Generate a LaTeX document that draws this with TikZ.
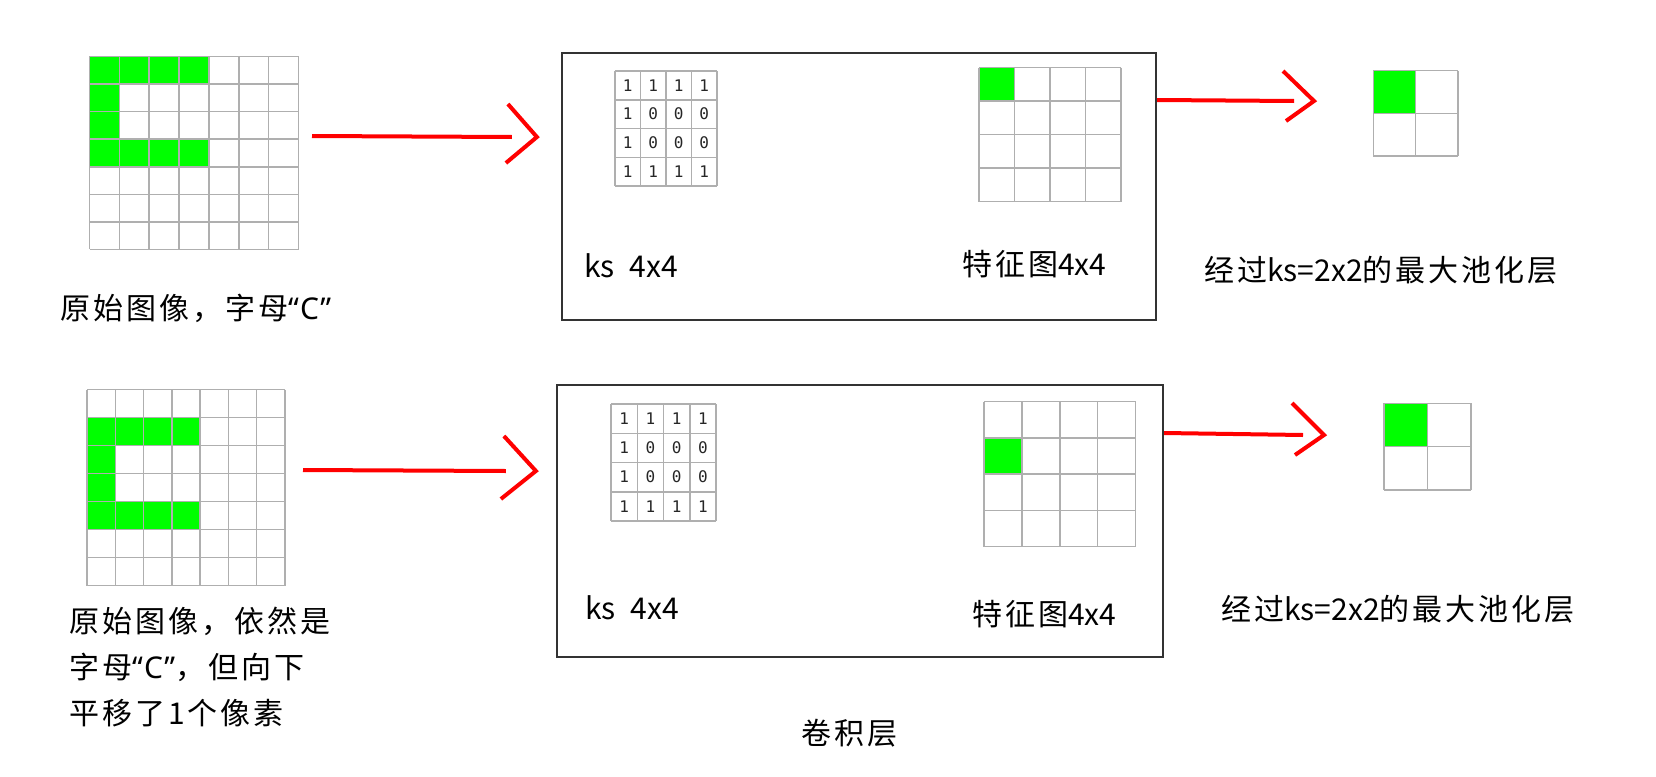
\documentclass[tikz,border=0pt]{standalone}
\usepackage{fontspec}
\setmainfont{Noto Sans CJK SC}
\newfontfamily\cjkspaced[LetterSpace=10]{Noto Sans CJK SC}
\newfontfamily\quotefont[LetterSpace=4]{Noto Sans}
\newfontfamily\kernelfont{DejaVu Sans Mono}
\usepackage{tikz}
\usetikzlibrary{positioning, calc}
\definecolor{pixgreen}{RGB}{0, 255, 0}
\definecolor{arrowred}{RGB}{255, 0, 0}
\definecolor{gridgray}{RGB}{175, 175, 175}
\tikzstyle{gridline} = [draw=gridgray, line width=1.5pt]
\tikzstyle{convbox} = [rectangle, draw=black!80, line width=2.2pt, inner sep=0pt]
\tikzstyle{redline} = [draw=arrowred, line width=4pt]
\tikzstyle{labeltext} = [anchor=base west, inner sep=0pt, font=\cjkspaced\fontsize{30}{36}\selectfont]
\tikzstyle{kstext} = [anchor=base west, inner sep=0pt, font=\fontsize{30}{36}\selectfont]
\tikzstyle{kernelnum} = [inner sep=0pt, font=\kernelfont\fontsize{16}{16}\selectfont, text=black!85]
\newcommand{\plainlatin}[1]{{\normalfont\fontsize{30}{36}\selectfont #1}}
% x0, y0, cols, rows, cell width, cell height
\newcommand{\cellgrid}[6]{%
  \foreach \i in {0,...,#3} \draw[gridline] ({#1+\i*#5},#2) -- ({#1+\i*#5},{#2+#4*#6});
  \foreach \j in {0,...,#4} \draw[gridline] (#1,{#2+\j*#6}) -- ({#1+#3*#5},{#2+\j*#6});
}
% x0, y0, cell width, cell height, list of col/row
\newcommand{\greencells}[5]{%
  \foreach \c/\r in {#5} \fill[pixgreen] ({#1+\c*#3},{#2+\r*#4}) rectangle +(#3,#4);
}
% x0, y0, cell width, cell height
\newcommand{\kernelnums}[4]{%
  \foreach \row [count=\j from 0] in {{1,1,1,1},{1,0,0,0},{1,0,0,0},{1,1,1,1}} {
    \foreach \v [count=\i from 0] in \row
      \node[kernelnum] at ({#1+(\i+0.5)*#3},{#2+(\j+0.5)*#4}) {\v};
  }
}

\begin{document}
\begin{tikzpicture}[x=1pt, y=-1pt]
    \useasboundingbox (0,0) rectangle (1656,776);

    % Top row: input image
    \greencells{89.5}{56.5}{29.86}{27.57}{0/0,1/0,2/0,3/0,0/1,0/2,0/3,1/3,2/3,3/3}
    \cellgrid{89.5}{56.5}{7}{7}{29.86}{27.57}
    \node[labeltext] (img1txt) at (60,319) {原始图像，字母{\quotefont “C”}};

    % Top row: convolution layer
    \node[convbox, minimum width=594pt, minimum height=267pt] (conv1) at (859,186.5) {};
    \cellgrid{615}{71}{4}{4}{25.5}{28.75}
    \kernelnums{615}{71}{25.5}{28.75}
    \node[kstext] (ks1) at (584,277) {ks\hspace{15pt}4x4};
    \greencells{979}{67.7}{35.5}{33.5}{0/0}
    \cellgrid{979}{67.7}{4}{4}{35.5}{33.5}
    \node[labeltext] (fm1) at (962,275.5) {特征图\plainlatin{4x4}};

    % Top row: pooling
    \greencells{1373.3}{70.7}{42.35}{42.65}{0/0}
    \cellgrid{1373.3}{70.7}{2}{2}{42.35}{42.65}
    \node[labeltext] (pool1) at (1204,281) {经过\plainlatin{ks=2x2}的最大池化层};

    % Top row arrows
    \coordinate (a1s) at (312,136);
    \path (conv1.west |- a1s) ++(-24,1) coordinate (a1t);
    \draw[redline] (a1s) -- ([xshift=-25pt]a1t);
    \draw[redline] ([shift={(-29,-33)}]a1t) -- (a1t) -- ([shift={(-31,26)}]a1t);
    \coordinate (a3s) at (conv1.east |- 0,100);
    \coordinate (a3t) at (1314,101);
    \draw[redline] (a3s) -- ([xshift=-20pt]a3t);
    \draw[redline] ([shift={(-31,-30)}]a3t) -- (a3t) -- ([shift={(-28,20)}]a3t);

    % Bottom row: shifted input image
    \greencells{87}{389.5}{28.29}{28}{0/1,1/1,2/1,3/1,0/2,0/3,0/4,1/4,2/4,3/4}
    \cellgrid{87}{389.5}{7}{7}{28.29}{28}
    \node[labeltext, anchor=north west, align=left, font=\cjkspaced\fontsize{30}{46}\selectfont] (img2txt) at (69,607)
        {原始图像，依然是\\字母{\quotefont “C”}，但向下\\平移了1个像素};

    % Bottom row: convolution layer
    \node[convbox, minimum width=606pt, minimum height=272pt] (conv2) at (860,521) {};
    \cellgrid{611}{404}{4}{4}{26.25}{29.25}
    \kernelnums{611}{404}{26.25}{29.25}
    \node[kstext] (ks2) at (585,619) {ks\hspace{15pt}4x4};
    \greencells{984}{401.7}{37.9}{36.25}{0/1}
    \cellgrid{984}{401.7}{4}{4}{37.9}{36.25}
    \node[labeltext] (fm2) at (972,625) {特征图\plainlatin{4x4}};

    % Bottom row: pooling
    \greencells{1384}{403.3}{43.5}{43.35}{0/0}
    \cellgrid{1384}{403.3}{2}{2}{43.5}{43.35}
    \node[labeltext] (pool2) at (1221,620) {经过\plainlatin{ks=2x2}的最大池化层};

    % Bottom row arrows
    \coordinate (a2s) at (303,470);
    \path (conv2.west |- a2s) ++(-20,1) coordinate (a2t);
    \draw[redline] (a2s) -- ([xshift=-30pt]a2t);
    \draw[redline] ([shift={(-32,-35)}]a2t) -- (a2t) -- ([shift={(-35,28)}]a2t);
    \coordinate (a4s) at (conv2.east |- 0,433);
    \coordinate (a4t) at (1324,435);
    \draw[redline] (a4s) -- ([xshift=-21pt]a4t);
    \draw[redline] ([shift={(-32,-32)}]a4t) -- (a4t) -- ([shift={(-29,20)}]a4t);

    \node[labeltext, anchor=base] (convtxt) at (849,744) {卷积层};
\end{tikzpicture}
\end{document}
